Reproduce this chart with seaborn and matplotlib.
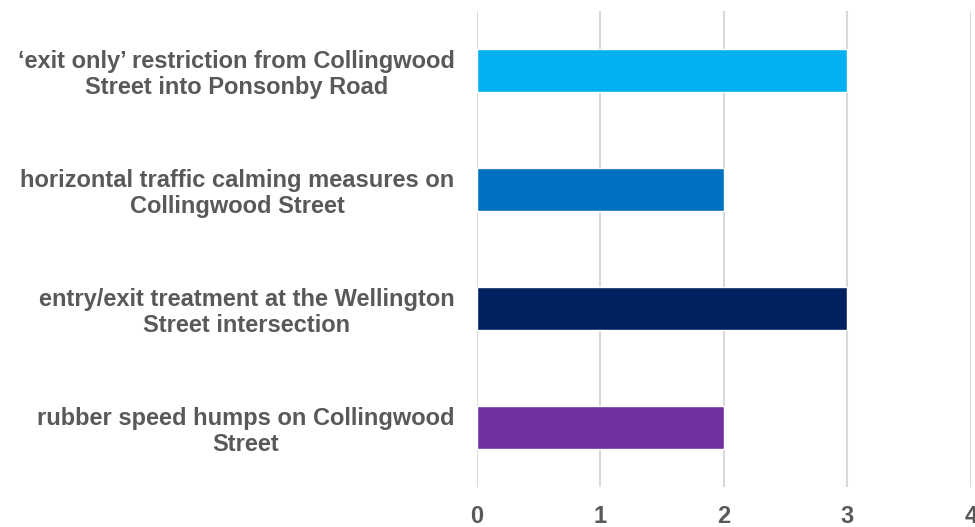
import matplotlib
matplotlib.use("Agg")
import matplotlib.pyplot as plt
import seaborn as sns
import pandas as pd

# Survey measures and their scores
measures = [
    "\u2018exit only\u2019 restriction from Collingwood\nStreet into Ponsonby Road",
    "horizontal traffic calming measures on\nCollingwood Street",
    "entry/exit treatment at the Wellington\nStreet intersection",
    "rubber speed humps on Collingwood\nStreet",
]
scores = [3, 2, 3, 2]
bar_colors = ["#00B0F0", "#0070C0", "#002060", "#7030A0"]
x_ticks = [0, 1, 2, 3, 4]

df = pd.DataFrame({"measure": measures, "score": scores})

sns.set_theme(style="white")
plt.rcParams["font.family"] = ["Liberation Sans", "DejaVu Sans"]

fig = plt.figure(figsize=(9.75, 5.27), dpi=100)
ax = fig.add_axes([0.4892, 0.0759, 0.5067, 0.9032])

sns.barplot(
    data=df, y="measure", x="score", hue="measure",
    palette=bar_colors, orient="h", width=0.36,
    legend=False, saturation=1, ax=ax,
)

ax.set_xlim(0, 4)
ax.set_ylim(3.5, -0.5)
ax.set_xticks(x_ticks)
ax.set_xticklabels([str(t) for t in x_ticks])
ax.grid(axis="x", color="#D9D9D9", linewidth=1.5)
ax.set_axisbelow(True)
for s in ax.spines.values():
    s.set_visible(False)
ax.set_xlabel("")
ax.set_ylabel("")

ax.tick_params(axis="x", length=0, pad=13, labelsize=17, labelcolor="#595959")
ax.tick_params(axis="y", length=0, pad=16, labelsize=17, labelcolor="#595959")
for lbl in ax.get_xticklabels() + ax.get_yticklabels():
    lbl.set_fontweight("bold")
for lbl in ax.get_yticklabels():
    lbl.set_multialignment("center")
    lbl.set_linespacing(1.15)

fig.savefig("out.png", dpi=100, facecolor="white")
